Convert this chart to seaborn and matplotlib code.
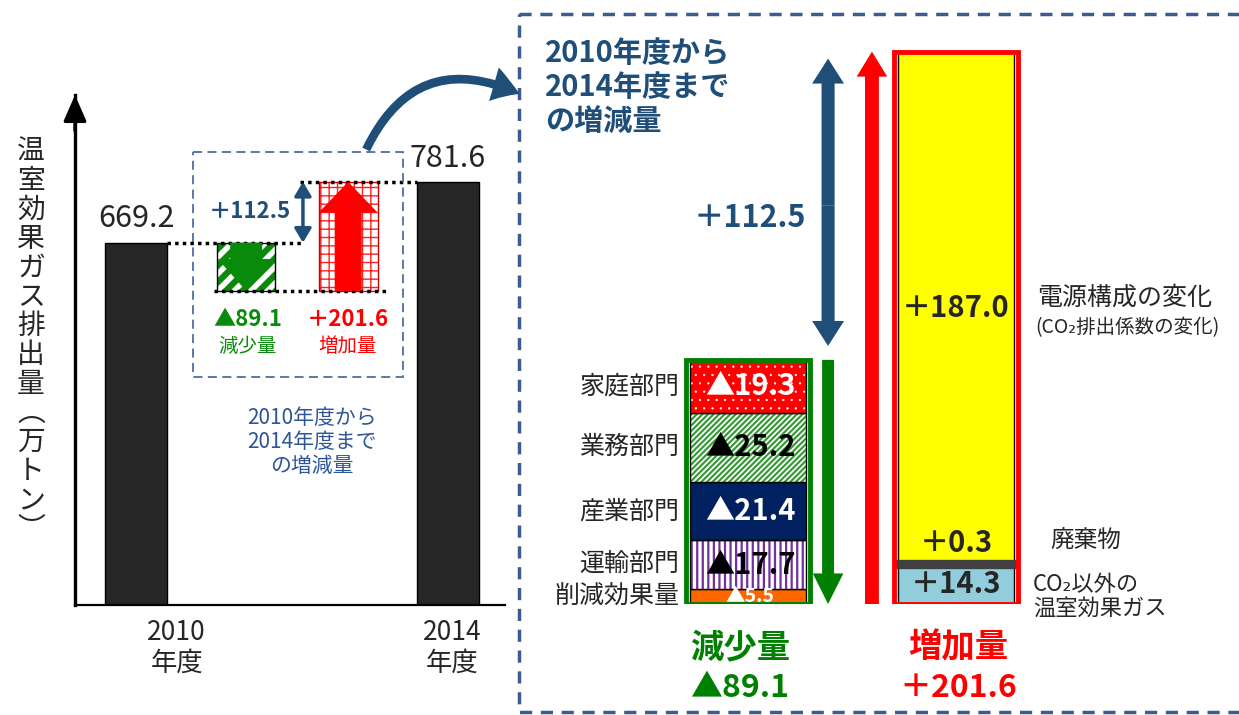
import numpy as np
import matplotlib
matplotlib.use("Agg")
import matplotlib.pyplot as plt
import seaborn as sns
from matplotlib.patches import Rectangle, FancyArrowPatch

# ---- data ----
years = ["2010", "2014"]
year_ticks = ["2010\n年度", "2014\n年度"]
emissions = [669.2, 781.6]

# decrease items (bottom -> top)
dec_labels = ["削減効果量", "運輸部門", "産業部門", "業務部門", "家庭部門"]
dec_values = [5.5, 17.7, 21.4, 25.2, 19.3]
dec_colors = ["#ff6600", "white", "#002060", "white", "#ff0000"]
dec_hatch = [None, "|||", None, "//////", ".."]
dec_hatch_colors = ["#ff6600", "#7030a0", "#002060", "#3a9a3a", "white"]
dec_text_colors = ["white", "black", "white", "black", "white"]
dec_text_sizes = [14, 21, 21, 21, 21]

# increase items (bottom -> top)
inc_labels = ["CO₂以外の\n温室効果ガス", "廃棄物", "電源構成の変化"]
inc_values = [14.3, 0.3, 187.0]
inc_colors = ["#92cddc", "#404040", "#ffff00"]

ylabel_chars = list("温室効果ガス排出量") + ["︵", "万", "ト", "ン", "︶"]

dec_total = round(sum(dec_values), 1)
inc_total = round(sum(inc_values), 1)
net = round(inc_total - dec_total, 1)

BLUE = "#1f4e79"
GREEN = "#0a8a0a"
RED = "#ff0000"

sns.set_style("white")
plt.rcParams["font.family"] = ["Noto Sans CJK JP", "DejaVu Sans"]
plt.rcParams["hatch.linewidth"] = 1.6

W, H = 1239, 715
fig = plt.figure(figsize=(W / 100, H / 100), dpi=100)


def px_axes(x0, y0, x1, y1):
    a = fig.add_axes([x0 / W, 1 - y1 / H, (x1 - x0) / W, (y1 - y0) / H])
    a.set_facecolor("none")
    return a


def hatch_lw(container, lw):
    for p in container.patches:
        if hasattr(p, "set_hatch_linewidth"):
            p.set_hatch_linewidth(lw)


# ---- left chart ----
axL = px_axes(75, 95, 505, 605)
sns.barplot(x=years, y=emissions, ax=axL, color="#262626", width=0.2,
            edgecolor="black", linewidth=1, saturation=1)
axL.bar_label(axL.containers[0], fmt="%.1f", padding=6, fontsize=22)
axL.set_xlim(-0.196, 1.183)
axL.set_ylim(0, 942)
axL.set(xlabel="", ylabel="")
axL.set_yticks([])
axL.set_xticks([0.13, 1.013], year_ticks)
axL.tick_params(axis="x", length=0, pad=10, labelsize=19)
sns.despine(ax=axL)
axL.spines["left"].set_linewidth(2.4)
axL.spines["bottom"].set_linewidth(1.6)
axL.spines["left"].set_color("black")
axL.spines["bottom"].set_color("black")
axL.annotate("", xy=(0, 1.0), xycoords="axes fraction", xytext=(0, 0.93),
             arrowprops=dict(arrowstyle="-|>,head_length=0.8,head_width=0.35",
                             color="black", lw=2.4, mutation_scale=20,
                             shrinkA=0, shrinkB=0), annotation_clip=False)

# inset boxes
low = emissions[0] - dec_total
c = axL.bar(0.353, dec_total, bottom=low, width=0.186, color="white",
            edgecolor=GREEN, hatch="//", lw=0)
hatch_lw(c, 4.5)
axL.bar(0.353, dec_total, bottom=low, width=0.186, fill=False,
        edgecolor="black", lw=1)
axL.annotate("", xy=(0.353, low), xytext=(0.353, emissions[0]),
             arrowprops=dict(arrowstyle="simple,tail_width=1.15,head_width=2.05,head_length=1.15",
                             fc=GREEN, ec="none", mutation_scale=20,
                             shrinkA=0, shrinkB=0))
c = axL.bar(0.68, inc_total, bottom=low, width=0.19, color="white",
            edgecolor="#ff2020", hatch="++", lw=0)
hatch_lw(c, 1.0)
axL.bar(0.68, inc_total, bottom=low, width=0.19, fill=False,
        edgecolor="#cc0000", lw=1)
axL.annotate("", xy=(0.68, low + inc_total), xytext=(0.68, low),
             arrowprops=dict(arrowstyle="simple,tail_width=0.97,head_width=2.1,head_length=1.1",
                             fc=RED, ec="none", mutation_scale=20,
                             shrinkA=0, shrinkB=0))
axL.annotate("", xy=(0.535, emissions[1]), xytext=(0.535, emissions[0]),
             arrowprops=dict(arrowstyle="<|-|>,head_length=0.6,head_width=0.36",
                             color=BLUE, lw=2.5, mutation_scale=14,
                             shrinkA=0, shrinkB=0))
dot = dict(color="black", lw=2.5, ls=(0, (1, 1.2)))
axL.plot([0.1, 0.54], [emissions[0]] * 2, **dot)
axL.plot([0.525, 0.9], [emissions[1]] * 2, **dot)
axL.plot([0.25, 0.81], [low] * 2, **dot)

# ---- right stacked bars ----
axR = px_axes(680, 30, 1030, 604)
axR.set_xlim(-0.327, 1.356)
axR.set_ylim(0, 574 / 2.74)
axR.axis("off")

dec_bottoms = np.concatenate([[0], np.cumsum(dec_values)[:-1]])
for v, b, fc, hc, ht, lab, tc, ts in zip(dec_values, dec_bottoms, dec_colors,
                                          dec_hatch_colors, dec_hatch, dec_labels,
                                          dec_text_colors, dec_text_sizes):
    c = axR.bar(0, v, bottom=b, width=0.56, color=fc, edgecolor=hc, hatch=ht, lw=0)
    hatch_lw(c, 0.4 if ht == ".." else 1.6)
    axR.bar(0, v, bottom=b, width=0.56, fill=False, edgecolor="black", lw=1)
    axR.text(0.01, b + v / 2, f"▲{v:.1f}", ha="center", va="center",
             color=tc, fontsize=ts, fontweight="bold")
    axR.text(-0.33, b + v / 2, lab, ha="right", va="center", fontsize=18)
axR.bar(0, dec_total, width=0.6, fill=False, edgecolor="#008000", lw=3.5)

inc_bottoms = np.concatenate([[0], np.cumsum(inc_values)[:-1]])
for v, b, fc in zip(inc_values, inc_bottoms, inc_colors):
    axR.bar(1, v, bottom=b, width=0.56, color=fc, edgecolor="black", lw=1)
# thin waste band drawn with a thick edge so it stays visible
axR.bar(1, inc_values[1], bottom=inc_bottoms[1], width=0.56, color=inc_colors[1],
        edgecolor=inc_colors[1], lw=6)
axR.bar(1, inc_total, width=0.6, fill=False, edgecolor=RED, lw=3.5)

axR.text(1, inc_bottoms[2] + inc_values[2] / 2, f"＋{inc_values[2]:.1f}",
         ha="center", va="center", fontsize=21, fontweight="bold")
axR.annotate(f"＋{inc_values[1]:.1f}", xy=(1, inc_bottoms[2]), xytext=(0, 4),
             textcoords="offset points", ha="center", va="bottom",
             fontsize=21, fontweight="bold")
axR.text(1, inc_values[0] / 2, f"＋{inc_values[0]:.1f}", ha="center",
         va="center", fontsize=21, fontweight="bold")

# arrows
mid = (dec_total + inc_total) / 2
blue_style = "simple,tail_width=0.47,head_width=1.15,head_length=0.9"
axR.annotate("", xy=(0.385, inc_total), xytext=(0.385, mid),
             arrowprops=dict(arrowstyle=blue_style, fc=BLUE, ec="none",
                             mutation_scale=20, shrinkA=0, shrinkB=5))
axR.annotate("", xy=(0.385, dec_total), xytext=(0.385, mid),
             arrowprops=dict(arrowstyle=blue_style, fc=BLUE, ec="none",
                             mutation_scale=20, shrinkA=0, shrinkB=10))
axR.annotate("", xy=(0.385, 0), xytext=(0.385, dec_total),
             arrowprops=dict(arrowstyle="simple,tail_width=0.43,head_width=1.1,head_length=1.1",
                             fc="#008000", ec="none", mutation_scale=20,
                             shrinkA=0, shrinkB=0), annotation_clip=False)
axR.annotate("", xy=(0.596, inc_total), xytext=(0.596, 0),
             arrowprops=dict(arrowstyle="simple,tail_width=0.5,head_width=1.1,head_length=0.9",
                             fc=RED, ec="none", mutation_scale=20,
                             shrinkA=0, shrinkB=0), annotation_clip=False)

# ---- overlay: frames, curved arrow and free text ----
ov = px_axes(0, 0, W, H)
ov.set_xlim(0, W)
ov.set_ylim(H, 0)
ov.axis("off")
ov.set_zorder(10)

ov.add_patch(Rectangle((193, 152), 210, 225, fill=False, ec="#4a6fa5",
                       lw=1.3, ls=(0, (5, 3))))
ov.add_patch(Rectangle((519, 14), 800, 698, fill=False, ec="#3b5c8e",
                       lw=2.5, ls=(0, (3.5, 2.5))))
ov.add_patch(FancyArrowPatch((365, 152), (522, 95), connectionstyle="arc3,rad=-0.5",
                             arrowstyle="simple,tail_width=0.22,head_width=0.9,head_length=0.7",
                             mutation_scale=28, fc=BLUE, ec="none"))

for i, ch in enumerate(ylabel_chars):
    ov.text(31, 152 + i * 29, ch, ha="center", va="center", fontsize=20)

ov.text(250, 212, f"＋{net:.1f}", ha="center", va="center", color=BLUE,
        fontsize=16, fontweight="bold")
ov.text(248, 320, f"▲{dec_total:.1f}", ha="center", va="center", color=GREEN,
        fontsize=16, fontweight="bold")
ov.text(248, 346, "減少量", ha="center", va="center", color=GREEN, fontsize=14)
ov.text(348, 320, f"＋{inc_total:.1f}", ha="center", va="center", color=RED,
        fontsize=16, fontweight="bold")
ov.text(348, 346, "増加量", ha="center", va="center", color=RED, fontsize=14)
ov.text(312, 442, "2010年度から\n2014年度まで\nの増減量", ha="center", va="center",
        color="#2f5597", fontsize=15, linespacing=1.1)

ov.text(545, 87, "2010年度から\n2014年度まで\nの増減量", ha="left", va="center",
        color=BLUE, fontsize=21, fontweight="bold", linespacing=1.15)
ov.text(750, 218, f"＋{net:.1f}", ha="center", va="center", color=BLUE,
        fontsize=22, fontweight="bold")

ov.text(1125, 298, inc_labels[2], ha="center", va="center", fontsize=18)
ov.text(1127, 328, "(CO₂排出係数の変化)", ha="center", va="center", fontsize=14)
ov.text(1086, 541, inc_labels[1], ha="center", va="center", fontsize=17)
ov.text(1033, 596, inc_labels[0], ha="left", va="center", fontsize=16,
        linespacing=1.05)

ov.text(740, 648, "減少量", ha="center", va="center", color="#008000",
        fontsize=24, fontweight="bold")
ov.text(740, 688, f"▲{dec_total:.1f}", ha="center", va="center", color="#008000",
        fontsize=23, fontweight="bold")
ov.text(958, 648, "増加量", ha="center", va="center", color=RED,
        fontsize=24, fontweight="bold")
ov.text(958, 688, f"＋{inc_total:.1f}", ha="center", va="center", color=RED,
        fontsize=23, fontweight="bold")

fig.savefig("out.png", dpi=100)
